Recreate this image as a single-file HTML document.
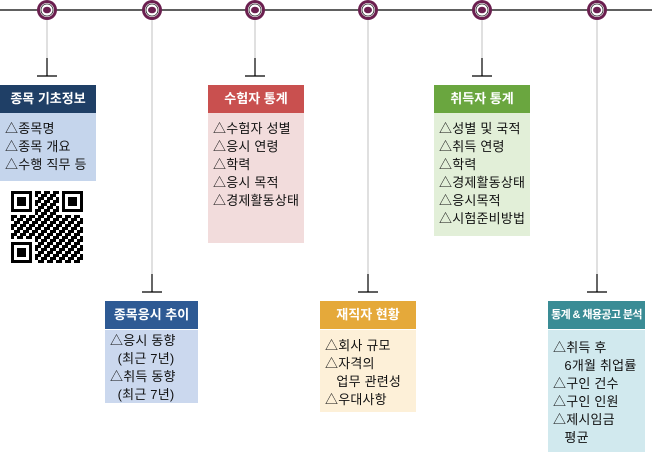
<!DOCTYPE html>
<html><head><meta charset="utf-8"><style>
body{margin:0;width:652px;height:453px;background:#fff;position:relative;overflow:hidden;font-family:"Liberation Sans","Noto Sans CJK KR",sans-serif}
.h{position:absolute;color:#fff;font-size:13px;font-weight:bold;text-align:center;line-height:28px}
.b{position:absolute;font-size:13px;line-height:18px;color:#111;padding:7px 0 0 5px;box-sizing:border-box;letter-spacing:0.2px}
</style></head><body>
<svg width="652" height="453" style="position:absolute;left:0;top:0">
<line x1="0" y1="10" x2="652" y2="10" stroke="#000" stroke-width="1.3"/>
<g stroke="#d0d0d0" stroke-width="1.3">
<line x1="47" y1="20" x2="47" y2="58"/><line x1="152" y1="20" x2="152" y2="274"/>
<line x1="255" y1="20" x2="255" y2="58"/><line x1="368" y1="20" x2="368" y2="274"/>
<line x1="482" y1="20" x2="482" y2="58"/><line x1="597" y1="20" x2="597" y2="274"/>
</g>
<g stroke="#000" stroke-width="1.2">
<path d="M47 58V76M37 76H57"/><path d="M152 274V292M142 292H162"/>
<path d="M255 58V76M245 76H265"/><path d="M368 274V292M358 292H378"/>
<path d="M482 58V76M472 76H492"/><path d="M597 274V292M587 292H607"/>
</g>
<g id="c">
<circle cx="47" cy="10" r="10" fill="#6b1f4f"/><circle cx="47" cy="10" r="7" fill="#fff"/><circle cx="47" cy="10" r="6" fill="none" stroke="#222" stroke-width="0.8"/><ellipse cx="47" cy="10" rx="4" ry="3.3" fill="#6b1f4f"/>
</g>
<use href="#c" x="105"/><use href="#c" x="208"/><use href="#c" x="321"/><use href="#c" x="435"/><use href="#c" x="550"/>
<defs><pattern id="q" width="9" height="9" patternUnits="userSpaceOnUse">
<rect x="0" y="0" width="3" height="3"/><rect x="6" y="0" width="3" height="6"/><rect x="3" y="3" width="3" height="3"/><rect x="0" y="6" width="6" height="3"/><rect x="6" y="6" width="3" height="3" fill="#fff"/></pattern></defs>
<g transform="translate(11,191)">
<rect x="0" y="0" width="72" height="72" fill="url(#q)"/>
<g fill="#fff"><rect x="0" y="0" width="24" height="24"/><rect x="48" y="0" width="24" height="24"/><rect x="0" y="48" width="24" height="24"/></g>
<g fill="none" stroke="#000" stroke-width="3"><rect x="1.5" y="1.5" width="18" height="18"/><rect x="52.5" y="1.5" width="18" height="18"/><rect x="1.5" y="52.5" width="18" height="18"/></g>
<rect x="6" y="6" width="9" height="9"/><rect x="57" y="6" width="9" height="9"/><rect x="6" y="57" width="9" height="9"/>
</g>
</svg>
<div class="h" style="left:0;top:85px;width:96px;background:#1f3f66">종목 기초정보</div>
<div class="b" style="left:0;top:113px;width:96px;height:68px;background:#c5d5ec">△종목명<br>△종목 개요<br>△수행 직무 등</div>
<div class="h" style="left:105px;top:301px;width:93px;background:#2e5a94">종목응시 추이</div>
<div class="b" style="left:105px;top:330px;width:93px;height:73px;background:#cbd8ee;padding-top:2px">△응시 동향<br>&nbsp;&nbsp;(최근 7년)<br>△취득 동향<br>&nbsp;&nbsp;(최근 7년)</div>
<div class="h" style="left:208px;top:85px;width:96px;background:#c9504f">수험자 통계</div>
<div class="b" style="left:208px;top:113px;width:96px;height:130px;background:#f2dcdc">△수험자 성별<br>△응시 연령<br>△학력<br>△응시 목적<br>△경제활동상태</div>
<div class="h" style="left:320px;top:301px;width:96px;background:#e5a93a">재직자 현황</div>
<div class="b" style="left:320px;top:330px;width:96px;height:82px;background:#fdf0d8">△회사 규모<br>△자격의<br>&nbsp;&nbsp;&nbsp;업무 관련성<br>△우대사항</div>
<div class="h" style="left:434px;top:85px;width:96px;background:#6aa63f">취득자 통계</div>
<div class="b" style="left:434px;top:113px;width:96px;height:123px;background:#e2efd8">△성별 및 국적<br>△취득 연령<br>△학력<br>△경제활동상태<br>△응시목적<br>△시험준비방법</div>
<div class="h" style="left:548px;top:301px;width:97px;background:#3a8c95;font-size:11px;letter-spacing:-0.6px">통계 &amp; 채용공고 분석</div>
<div class="b" style="left:548px;top:330px;width:97px;height:122px;background:#d1e9ee;padding-top:9px">△취득 후<br>&nbsp;&nbsp;&nbsp;6개월 취업률<br>△구인 건수<br>△구인 인원<br>△제시임금<br>&nbsp;&nbsp;&nbsp;평균</div>
</body></html>
